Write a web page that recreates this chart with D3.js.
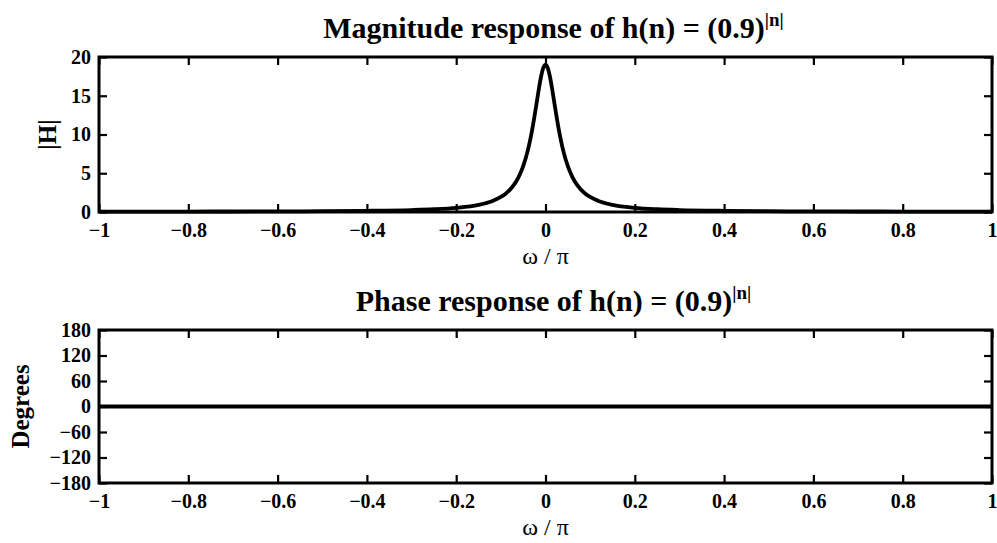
<!DOCTYPE html>
<style>
body{ margin:0; background:#fff; }
svg{ display:block; background:#fff; }
text{ font-family:"Liberation Serif","Times New Roman",serif; fill:#000; }
</style>
<script src="https://d3js.org/d3.v7.min.js"></script>
<svg width="997" height="543"></svg>
<script>
// frequency (omega/pi) and |H|
var omega = [-1, -0.9, -0.8, -0.7, -0.6, -0.5, -0.4, -0.3, -0.25, -0.2, -0.15, -0.12, -0.1, -0.09, -0.08, -0.07, -0.06, -0.05, -0.04, -0.035, -0.03, -0.025, -0.02, -0.015, -0.01, -0.005, -0.0025,
             0,
             0.0025, 0.005, 0.01, 0.015, 0.02, 0.025, 0.03, 0.035, 0.04, 0.05, 0.06, 0.07, 0.08, 0.09, 0.1, 0.12, 0.15, 0.2, 0.25, 0.3, 0.4, 0.5, 0.6, 0.7, 0.8, 0.9, 1];
var mag = [0.053, 0.054, 0.058, 0.066, 0.080, 0.105, 0.152, 0.253, 0.354, 0.537, 0.92, 1.39, 1.94, 2.33, 2.86, 3.56, 4.54, 5.91, 7.85, 9.10, 10.56, 12.22, 14.02, 15.84, 17.45, 18.59, 18.90,
           19.0,
           18.90, 18.59, 17.45, 15.84, 14.02, 12.22, 10.56, 9.10, 7.85, 5.91, 4.54, 3.56, 2.86, 2.33, 1.94, 1.39, 0.92, 0.537, 0.354, 0.253, 0.152, 0.105, 0.080, 0.066, 0.058, 0.054, 0.053];

// phase is flat at zero
var phaseOmega = [-1, 0, 1];
var phaseDeg = [0, 0, 0];

var xTicks = [-1, -0.8, -0.6, -0.4, -0.2, 0, 0.2, 0.4, 0.6, 0.8, 1];
var magTicks = [0, 5, 10, 15, 20];
var phaseTicks = [-180, -120, -60, 0, 60, 120, 180];

var svg = d3.select("svg");
var left = 99, right = 992;
var tickLen = 8;

var x = d3.scaleLinear().domain([-1, 1]).range([left, right]);

function fmt(d) { return d < 0 ? "\u2212" + Math.abs(d) : String(d); }

function panel(top, bottom, yDomain, yTicks, xs, ys, title, ylabel, ylabelX) {
  var y = d3.scaleLinear().domain(yDomain).range([bottom, top]);
  var g = svg.append("g");

  // curve
  g.append("path")
    .datum(d3.zip(xs, ys))
    .attr("fill", "none")
    .attr("stroke", "#000")
    .attr("stroke-width", 3.8)
    .attr("d", d3.line().x(function(d){ return x(d[0]); }).y(function(d){ return y(d[1]); }).curve(d3.curveMonotoneX));

  // axes, ticks pointing inward on all four sides
  var ax = function(a){ a.selectAll("path").remove(); a.selectAll("line").attr("stroke", "#000").attr("stroke-width", 2.2); a.selectAll("text").attr("font-family", null).style("font-size", "20px").style("font-weight", "bold"); };

  g.append("g").attr("transform", "translate(0," + bottom + ")")
    .call(d3.axisBottom(x).tickValues(xTicks).tickSize(-tickLen).tickPadding(11).tickFormat(fmt))
    .call(ax);
  g.append("g").attr("transform", "translate(0," + top + ")")
    .call(d3.axisTop(x).tickValues(xTicks).tickSize(-tickLen).tickFormat(""))
    .call(ax);
  g.append("g").attr("transform", "translate(" + left + ",0)")
    .call(d3.axisLeft(y).tickValues(yTicks).tickSize(-tickLen).tickPadding(8).tickFormat(fmt))
    .call(ax);
  g.append("g").attr("transform", "translate(" + right + ",0)")
    .call(d3.axisRight(y).tickValues(yTicks).tickSize(-tickLen).tickFormat(""))
    .call(ax);

  g.append("rect")
    .attr("x", left).attr("y", top)
    .attr("width", right - left).attr("height", bottom - top)
    .attr("fill", "none").attr("stroke", "#000").attr("stroke-width", 3);

  // title with superscript
  var t = g.append("text")
    .attr("x", (left + right) / 2 + 8).attr("y", top - 19)
    .attr("text-anchor", "middle")
    .style("font-size", "30px").style("font-weight", "bold");
  t.append("tspan").text(title);
  t.append("tspan").attr("dy", -12).style("font-size", "19px").text("|n|");

  // x label
  g.append("text")
    .attr("x", (left + right) / 2).attr("y", bottom + 52)
    .attr("text-anchor", "middle")
    .style("font-size", "24px")
    .text("\u03c9 / \u03c0");

  // y label
  g.append("text")
    .attr("transform", "translate(" + ylabelX + "," + ((top + bottom) / 2) + ") rotate(-90)")
    .attr("text-anchor", "middle")
    .style("font-size", "25px").style("font-weight", "bold")
    .text(ylabel);
}

panel(57, 212, [0, 20], magTicks, omega, mag, "Magnitude response of h(n) = (0.9)", "|H|", 56);
panel(330, 483, [-180, 180], phaseTicks, phaseOmega, phaseDeg, "Phase response of h(n) = (0.9)", "Degrees", 29);
</script>
